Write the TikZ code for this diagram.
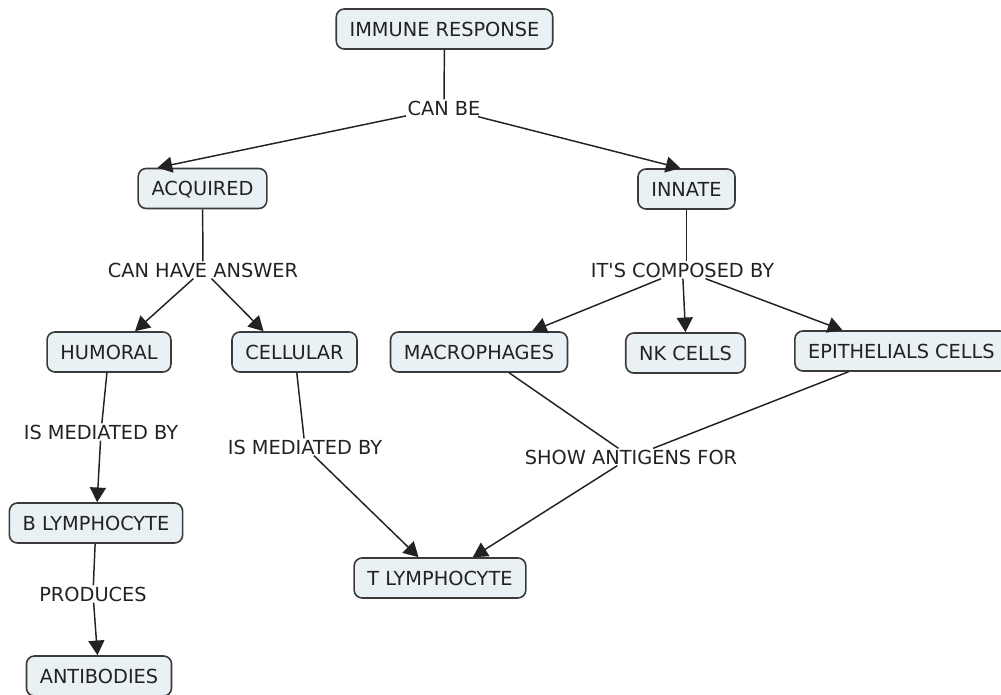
\documentclass[tikz,border=0pt]{standalone}
\usepackage{fontspec}
\setmainfont{DejaVu Sans}
\usetikzlibrary{arrows.meta,calc}

\definecolor{boxfill}{HTML}{E9F1F5}
\definecolor{boxline}{HTML}{3A3A3A}
\definecolor{ink}{HTML}{222222}

\tikzset{
  concept/.style={draw=boxline, line width=1.2pt, fill=boxfill, rounded corners=6pt,
    minimum height=30pt, inner xsep=10pt, text height=10.6pt, text depth=0pt,
    text=ink, font=\fontsize{14.5}{17}\selectfont},
  phrase/.style={inner sep=1pt, text=ink, text height=10.6pt, text depth=0pt,
    font=\fontsize{14.5}{17}\selectfont},
  link/.style={draw=ink, line width=1.1pt},
  linkto/.style={link, -{Triangle[length=11pt,width=12pt]}}
}

\begin{document}
\begin{tikzpicture}[x=0.75pt, y=-0.75pt]
\useasboundingbox (0,0) rectangle (1001,695);

% concepts
\node[concept] (ir)  at (444.5,29)  {IMMUNE RESPONSE};
\node[concept] (acq) at (202.5,188.5) {ACQUIRED};
\node[concept] (inn) at (686.5,189) {INNATE};
\node[concept] (hum) at (109,352)   {HUMORAL};
\node[concept] (cel) at (294.5,352) {CELLULAR};
\node[concept] (mac) at (479,352)   {MACROPHAGES};
\node[concept] (nk)  at (685.5,353) {NK CELLS};
\node[concept] (epi) at (901.5,351) {EPITHELIALS CELLS};
\node[concept] (bly) at (96,523)    {B LYMPHOCYTE};
\node[concept] (tly) at (440,578)   {T LYMPHOCYTE};
\node[concept] (ant) at (99,676)    {ANTIBODIES};

% linking phrases
\node[phrase] (canbe) at (444,108)   {CAN BE};
\node[phrase] (cha)   at (203,270)   {CAN HAVE ANSWER};
\node[phrase] (icb)   at (682.5,270) {IT\textquotesingle S COMPOSED BY};
\node[phrase] (imb1)  at (101,432)   {IS MEDIATED BY};
\node[phrase] (imb2)  at (305,447)   {IS MEDIATED BY};
\node[phrase] (sag)   at (631,457)   {SHOW ANTIGENS FOR};
\node[phrase] (prod)  at (93,594)    {PRODUCES};

% immune response branches
\draw[link] (ir) -- (canbe);
\draw[linkto] (canbe) -- ($(acq.north)+(-45,0)$);
\draw[linkto] (canbe) -- ($(inn.north)+(-6,0)$);

% acquired branch
\draw[link] (acq) -- (cha);
\draw[linkto] (cha) -- ($(hum.north)+(26,0)$);
\draw[linkto] (cha) -- ($(cel.north)+(-31,0)$);
\draw[link] (hum) -- (imb1);
\draw[linkto] (imb1) -- (bly);
\draw[link] (bly) -- (prod);
\draw[linkto] (prod) -- (ant);
\draw[link] (cel) -- (imb2);
\draw[linkto] (imb2) -- (tly);

% innate branch
\draw[link] (inn.south) -- (inn.south |- icb.north);
\draw[linkto] (icb) -- ($(mac.north)+(53,0)$);
\draw[linkto] (icb) -- (nk.north);
\draw[linkto] (icb) -- ($(epi.north)+(-59,0)$);
\draw[link] (mac) -- (sag);
\draw[link] (epi) -- (sag);
\draw[linkto] (sag) -- (tly);
\end{tikzpicture}
\end{document}
